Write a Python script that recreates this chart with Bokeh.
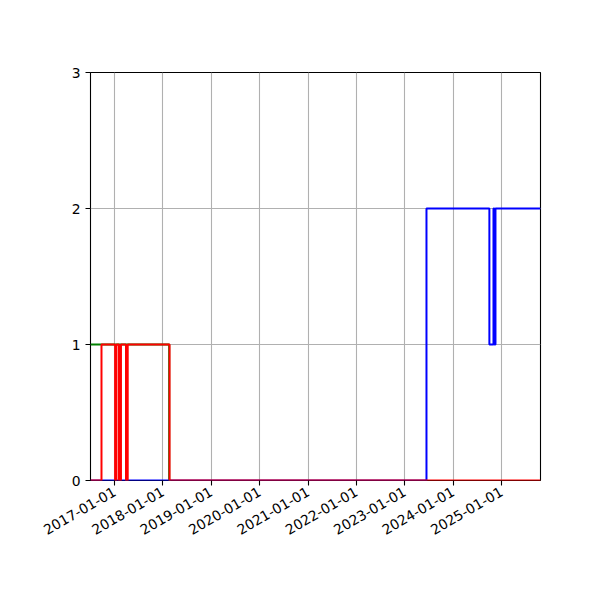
import math
import pandas as pd
from bokeh.plotting import figure
from bokeh.models import Range1d, FixedTicker, DatetimeTickFormatter
from bokeh.embed import file_html
from bokeh.resources import INLINE

# ---- data ----
green_dates = ["2016-07-03", "2018-02-17", "2018-03-01"]
green_values = [1, 0, 0]

blue_dates = ["2016-07-03", "2023-06-14", "2024-10-01", "2024-11-01",
              "2024-11-08", "2024-11-16", "2025-10-22"]
blue_values = [0, 2, 1, 2, 1, 2, 2]

red_dates = ["2016-07-03", "2016-09-24", "2017-01-05", "2017-01-15",
             "2017-02-03", "2017-02-18", "2017-03-28", "2017-04-10",
             "2018-02-20", "2025-10-22"]
red_values = [0, 1, 0, 1, 0, 1, 0, 1, 0, 0]

x_tick_dates = ["2017-01-01", "2018-01-01", "2019-01-01", "2020-01-01",
                "2021-01-01", "2022-01-01", "2023-01-01", "2024-01-01",
                "2025-01-01"]
y_ticks = [0, 1, 2, 3]
x_start, x_end = "2016-07-03", "2025-10-22"

# ---- figure ----
def ms(d):
    return pd.Timestamp(d).value / 1e6

p = figure(x_axis_type="datetime", output_backend="svg", toolbar_location=None,
           frame_width=450, frame_height=408,
           min_border_left=90, min_border_right=44,
           min_border_top=72, min_border_bottom=104,
           x_range=Range1d(ms(x_start), ms(x_end)),
           y_range=Range1d(0, 3))
p.background_fill_color = "white"
p.border_fill_color = "white"
p.outline_line_color = "black"
p.outline_line_width = 1.1
p.outline_line_alpha = 1

for dates, vals, col in [(green_dates, green_values, "green"),
                         (blue_dates, blue_values, "blue"),
                         (red_dates, red_values, "red")]:
    p.step(pd.to_datetime(dates), vals, mode="after", line_color=col, line_width=2)

p.xaxis.ticker = FixedTicker(ticks=[ms(d) for d in x_tick_dates])
p.xaxis.formatter = DatetimeTickFormatter(
    milliseconds="%Y-%m-%d", seconds="%Y-%m-%d", minsec="%Y-%m-%d",
    minutes="%Y-%m-%d", hourmin="%Y-%m-%d", hours="%Y-%m-%d",
    days="%Y-%m-%d", months="%Y-%m-%d", years="%Y-%m-%d")
p.xaxis.major_label_orientation = math.pi / 6
p.yaxis.ticker = FixedTicker(ticks=y_ticks)

for ax in (p.xaxis, p.yaxis):
    ax.axis_line_color = None
    ax.major_tick_line_color = "black"
    ax.major_tick_line_width = 1.1
    ax.major_tick_out = 5
    ax.major_tick_in = 0
    ax.minor_tick_line_color = None
    ax.major_label_text_font = "DejaVu Sans"
    ax.major_label_text_font_size = "13.9px"
    ax.major_label_text_color = "black"
    ax.major_label_standoff = 5

p.grid.grid_line_color = "#b0b0b0"
p.grid.grid_line_width = 1.1

open("out.html", "w").write(file_html(p, INLINE))
